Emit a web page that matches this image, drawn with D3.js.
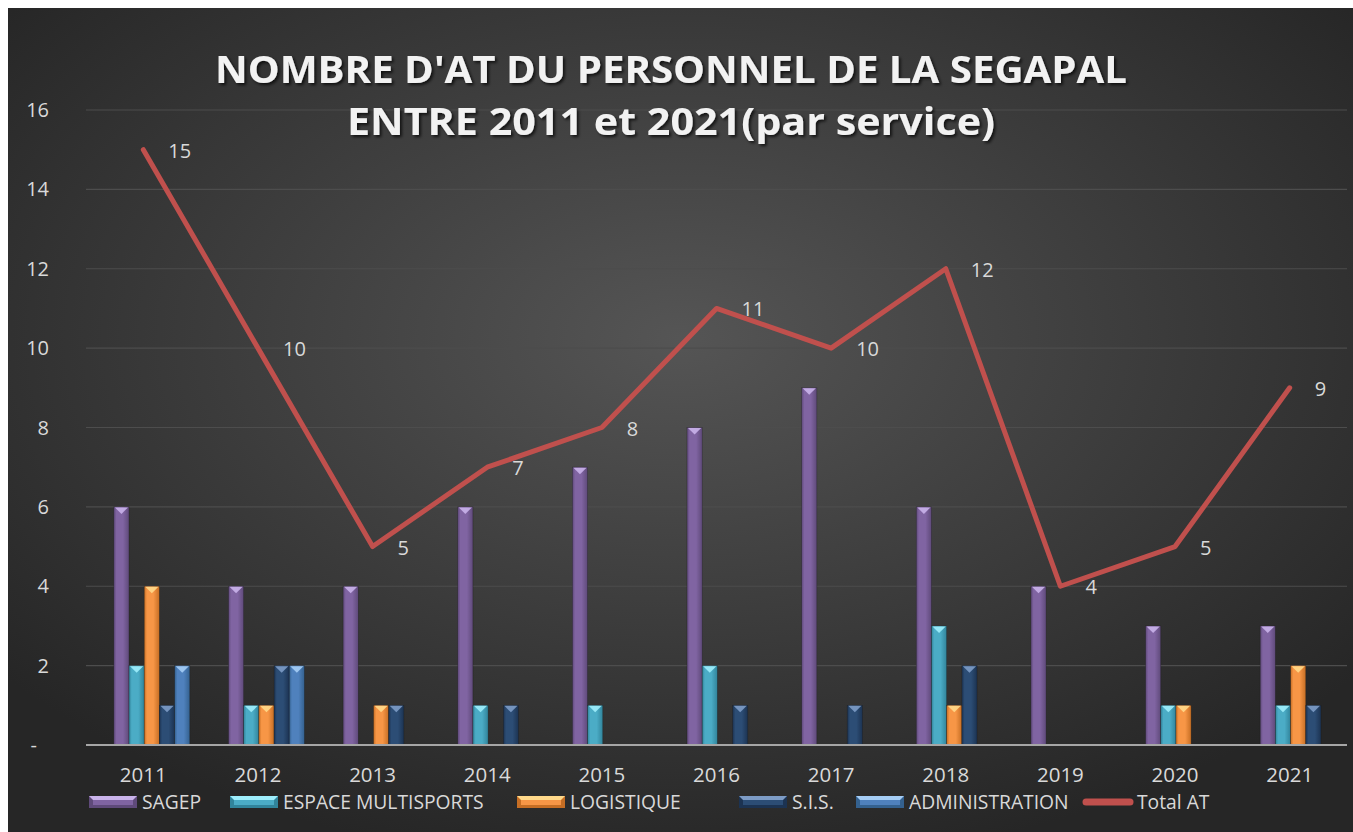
<!DOCTYPE html>
<html>
<head>
<meta charset="utf-8">
<script src="https://cdn.jsdelivr.net/npm/d3@7"></script>
<style>
  body { margin: 0; background: #fff; }
  svg { display: block; }
</style>
</head>
<body>
<div id="chart"></div>
<script>
const years = ["2011", "2012", "2013", "2014", "2015", "2016", "2017", "2018", "2019", "2020", "2021"];
const seriesNames = ["SAGEP", "ESPACE MULTISPORTS", "LOGISTIQUE", "S.I.S.", "ADMINISTRATION"];
const sagep = [6, 4, 4, 6, 7, 8, 9, 6, 4, 3, 3];
const espace = [2, 1, 0, 1, 1, 2, 0, 3, 0, 1, 1];
const logistique = [4, 1, 1, 0, 0, 0, 0, 1, 0, 1, 2];
const sis = [1, 2, 1, 1, 0, 1, 1, 2, 0, 0, 1];
const administration = [2, 2, 0, 0, 0, 0, 0, 0, 0, 0, 0];
const totalAT = [15, 10, 5, 7, 8, 11, 10, 12, 4, 5, 9];
const yTicks = [0, 2, 4, 6, 8, 10, 12, 14, 16];
const titleLines = ["NOMBRE D'AT DU PERSONNEL DE LA SEGAPAL", "ENTRE 2011 et 2021(par service)"];

const width = 1353;
const height = 832;
const plot = { left: 86, right: 1347, top: 110, bottom: 745 };
const font = "'Open Sans', 'DejaVu Sans', sans-serif";
const textColor = "#d9d9d9";

// fill, dark edge, light bevel
const colors = [
  { fill: "#8064a2", dark: "#5f4a7a", light: "#c9b3ea" },
  { fill: "#4bacc6", dark: "#31849b", light: "#9eeefc" },
  { fill: "#f79646", dark: "#c66e24", light: "#ffd98a" },
  { fill: "#2c4d75", dark: "#1c3352", light: "#7d9cc6" },
  { fill: "#4f81bd", dark: "#34618f", light: "#a5cdf5" }
];
const seriesValues = [sagep, espace, logistique, sis, administration];

const svg = d3.select("#chart").append("svg")
  .attr("width", width)
  .attr("height", height);

const defs = svg.append("defs");
const bg = defs.append("radialGradient").attr("id", "bg")
  .attr("cx", "50%").attr("cy", "40%").attr("r", "65%");
bg.append("stop").attr("offset", "0%").attr("stop-color", "#555555");
bg.append("stop").attr("offset", "100%").attr("stop-color", "#262626");

colors.forEach((c, i) => {
  const g = defs.append("linearGradient").attr("id", `bar${i}`)
    .attr("x1", "0").attr("x2", "1").attr("y1", "0").attr("y2", "0");
  g.append("stop").attr("offset", "0%").attr("stop-color", c.dark);
  g.append("stop").attr("offset", "18%").attr("stop-color", c.fill);
  g.append("stop").attr("offset", "60%").attr("stop-color", c.fill);
  g.append("stop").attr("offset", "100%").attr("stop-color", c.dark);
});

const shadow = defs.append("filter").attr("id", "shadow")
  .attr("x", "-5%").attr("y", "-20%").attr("width", "110%").attr("height", "150%");
shadow.append("feDropShadow").attr("dx", 2).attr("dy", 2).attr("stdDeviation", 1.5)
  .attr("flood-color", "#000").attr("flood-opacity", 0.7);

svg.append("rect")
  .attr("x", 8).attr("y", 8)
  .attr("width", width - 8).attr("height", height - 8)
  .attr("fill", "url(#bg)");

const x = d3.scaleBand().domain(years).range([plot.left, plot.right]);
const y = d3.scaleLinear().domain([0, 16]).range([plot.bottom, plot.top]);
const barW = 15.2;
const x1 = d3.scaleBand().domain(seriesNames)
  .range([-29.5, -29.5 + barW * seriesNames.length]);

// gridlines
svg.append("g").selectAll("line")
  .data(yTicks.filter(d => d > 0))
  .join("line")
  .attr("x1", plot.left).attr("x2", plot.right)
  .attr("y1", d => y(d)).attr("y2", d => y(d))
  .attr("stroke", "#4d4d4d").attr("stroke-width", 1.2);

// y labels
svg.append("g").selectAll("text")
  .data(yTicks)
  .join("text")
  .attr("x", d => d === 0 ? 37 : 49)
  .attr("y", d => y(d))
  .attr("dy", "0.35em")
  .attr("text-anchor", "end")
  .attr("fill", textColor)
  .attr("font-family", font)
  .attr("font-size", 20)
  .text(d => d === 0 ? "-" : d);

// bars
const barData = [];
seriesValues.forEach((vals, si) => {
  vals.forEach((v, yi) => {
    if (v > 0) barData.push({ series: seriesNames[si], si, year: years[yi], value: v });
  });
});

const bars = svg.append("g").selectAll("g")
  .data(barData)
  .join("g")
  .attr("transform", d => `translate(${x(d.year) + x.bandwidth() / 2 + x1(d.series)},0)`);

bars.append("rect")
  .attr("x", 0)
  .attr("y", d => y(d.value))
  .attr("width", x1.bandwidth())
  .attr("height", d => y(0) - y(d.value))
  .attr("fill", d => `url(#bar${d.si})`)
  .attr("stroke", "#1a1a1a")
  .attr("stroke-opacity", 0.5)
  .attr("stroke-width", 0.6);

bars.append("path")
  .attr("d", d => {
    const top = y(d.value);
    const w = x1.bandwidth();
    return `M1,${top + 0.5} L${w - 1},${top + 0.5} L${w / 2},${top + 7} Z`;
  })
  .attr("fill", d => colors[d.si].light)
  .attr("opacity", 0.9);

// axis line
svg.append("line")
  .attr("x1", plot.left).attr("x2", plot.right)
  .attr("y1", plot.bottom).attr("y2", plot.bottom)
  .attr("stroke", "#a6a6a6").attr("stroke-width", 2.2);

// x labels
svg.append("g").selectAll("text")
  .data(years)
  .join("text")
  .attr("x", d => x(d) + x.bandwidth() / 2)
  .attr("y", 775)
  .attr("dy", "0.35em")
  .attr("text-anchor", "middle")
  .attr("fill", textColor)
  .attr("font-family", font)
  .attr("font-size", 20.5)
  .text(d => d);

// total line
const lineData = years.map((yr, i) => ({ year: yr, value: totalAT[i] }));
const line = d3.line()
  .x(d => x(d.year) + x.bandwidth() / 2)
  .y(d => y(d.value));

svg.append("path")
  .datum(lineData)
  .attr("d", line)
  .attr("fill", "none")
  .attr("stroke", "#c0504d")
  .attr("stroke-width", 5)
  .attr("stroke-linecap", "round")
  .attr("stroke-linejoin", "round");

svg.append("g").selectAll("text")
  .data(lineData)
  .join("text")
  .attr("x", d => x(d.year) + x.bandwidth() / 2 + 25)
  .attr("y", d => y(d.value) + 1)
  .attr("dy", "0.35em")
  .attr("fill", textColor)
  .attr("font-family", font)
  .attr("font-size", 20)
  .text(d => d.value);

// title
svg.append("g").selectAll("text")
  .data(titleLines)
  .join("text")
  .attr("x", 671)
  .attr("y", (d, i) => 83 + i * 52)
  .attr("text-anchor", "middle")
  .attr("fill", "#f2f2f2")
  .attr("font-family", font)
  .attr("font-weight", "bold")
  .attr("font-size", 38)
  .attr("filter", "url(#shadow)")
  .attr("textLength", (d, i) => i === 0 ? 912 : 648)
  .attr("lengthAdjust", "spacingAndGlyphs")
  .text(d => d);

// legend
const legendItems = [
  { name: "SAGEP", x: 89, type: "bar", si: 0 },
  { name: "ESPACE MULTISPORTS", x: 230, type: "bar", si: 1 },
  { name: "LOGISTIQUE", x: 517, type: "bar", si: 2 },
  { name: "S.I.S.", x: 739, type: "bar", si: 3 },
  { name: "ADMINISTRATION", x: 856, type: "bar", si: 4 },
  { name: "Total AT", x: 1083, type: "line" }
];
const legendY = 802;
const legend = svg.append("g").selectAll("g")
  .data(legendItems)
  .join("g")
  .attr("transform", d => `translate(${d.x},${legendY})`);

legend.filter(d => d.type === "bar").each(function (d) {
  const g = d3.select(this);
  const c = colors[d.si];
  g.append("rect").attr("x", 0).attr("y", -6).attr("width", 48).attr("height", 12)
    .attr("fill", c.dark);
  g.append("path")
    .attr("d", "M0,-6 L48,-6 L44,-2 L4,-2 Z")
    .attr("fill", c.light);
  g.append("rect").attr("x", 4).attr("y", -2).attr("width", 40).attr("height", 5)
    .attr("fill", c.fill);
});

legend.filter(d => d.type === "line")
  .append("line")
  .attr("x1", 3).attr("x2", 47).attr("y1", 0).attr("y2", 0)
  .attr("stroke", "#c0504d").attr("stroke-width", 7)
  .attr("stroke-linecap", "round");

legend.append("text")
  .attr("x", d => d.type === "line" ? 54 : 53)
  .attr("y", 0)
  .attr("dy", "0.35em")
  .attr("fill", textColor)
  .attr("font-family", font)
  .attr("font-size", 19.3)
  .text(d => d.name);
</script>
</body>
</html>
